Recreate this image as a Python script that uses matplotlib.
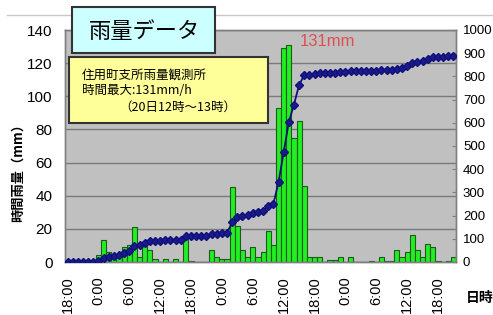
import matplotlib
matplotlib.use('Agg')
import matplotlib.pyplot as plt
from matplotlib.patches import Rectangle
from matplotlib.lines import Line2D

plt.rcParams['font.family'] = ['Liberation Sans Narrow', 'Liberation Sans', 'Noto Sans CJK JP', 'DejaVu Sans']

# hourly rainfall (mm), one value per hour from 18:00
rain = [0, 0, 0, 0, 0, 0, 4, 13, 6, 2,
        4, 9, 10, 21, 3, 11, 7, 2, 0, 2,
        0, 2, 0, 15, 0.5, 0, 0, 0, 7, 3,
        2, 2, 45, 22, 7, 3, 9, 3, 6, 19,
        10, 93, 129, 131, 75, 85, 46, 3, 3, 3,
        0, 1, 1, 3, 0, 3, 0, 0, 0, 0.5,
        0, 3, 0.5, 0.5, 7, 3, 6, 16, 7, 3,
        11, 9, 0.5, 0, 0.5, 3]

# cumulative rainfall (mm)
total = [0, 0, 0, 0, 0, 0, 4, 17, 23, 25,
         29, 38, 48, 69, 72, 83, 90, 92, 92, 94,
         94, 96, 96, 111, 112, 112, 112, 112, 119, 122,
         124, 126, 171, 193, 200, 203, 212, 215, 221, 240,
         250, 343, 472, 603, 678, 763, 805, 808, 811, 814,
         814, 815, 816, 819, 819, 822, 822, 822, 822, 823,
         823, 826, 826, 827, 834, 837, 843, 857, 864, 867,
         877, 884, 885, 885, 886, 889]

tick_labels = ['18:00', '0:00', '6:00', '12:00'] * 3 + ['18:00']

W, H = 493, 315
def fx(px):
    return px / W
def fy(py):
    return 1 - py / H

fig = plt.figure(figsize=(W / 100, H / 100), dpi=100)
fig.patch.set_facecolor('white')
ax = fig.add_axes([fx(65), fy(262), fx(456) - fx(65), fy(30) - fy(262)])
ax.set_facecolor('#C0C0C0')

x = list(range(len(rain)))
ax.bar(x, rain, width=1.0, color='#22EE22', edgecolor='#1E5A1E', linewidth=0.8, zorder=2)
ax.set_xlim(-0.5, len(rain) - 0.5)
ax.set_ylim(0, 140)
ax.set_yticks(range(0, 141, 20))
ax.yaxis.grid(True, color='#7A7A7A', linewidth=1)
ax.set_axisbelow(True)
ax.set_xticks(range(0, len(rain), 6))
ax.set_xticklabels(tick_labels, rotation=90, fontsize=10.5, family=['Liberation Sans', 'DejaVu Sans'])
ax.tick_params(axis='x', length=0, pad=10)
ax.tick_params(axis='y', length=0, pad=9, labelsize=11)

ax2 = ax.twinx()
ax2.plot(x, total, color='#10107A', linewidth=1.3, marker='D', markersize=4,
         markerfacecolor='#1A1A8C', markeredgecolor='#10107A', zorder=3)
ax2.set_ylim(0, 1000)
ax2.set_yticks(range(0, 1001, 100))
ax2.tick_params(axis='y', direction='in', length=3, color='#808080', pad=5, labelsize=9.5)

for a in (ax, ax2):
    for s in a.spines.values():
        s.set_color('#808080')
        s.set_linewidth(1)

# outer chart border line
fig.add_artist(Line2D([fx(7), 1], [fy(15), fy(15)], color='#C8C8C8', linewidth=1))

# title box
fig.add_artist(Rectangle((fx(72), fy(53)), fx(215) - fx(72), fy(7) - fy(53),
                         facecolor='#CCFFFF', edgecolor='#333333', linewidth=1.5, zorder=5))
fig.text(fx(144), fy(31), '雨量データ', fontsize=16, family=['Noto Sans CJK JP'],
         ha='center', va='center', zorder=6)

# info box
fig.add_artist(Rectangle((fx(69), fy(123)), fx(268) - fx(69), fy(57) - fy(123),
                         facecolor='#FFFF99', edgecolor='#333333', linewidth=1.5, zorder=5))
fig.text(fx(82), fy(75), '住用町支所雨量観測所', fontsize=9, family=['Noto Sans CJK JP'],
         ha='left', va='center', zorder=6)
fig.text(fx(82), fy(91), '時間最大:131mm/h', fontsize=9, family=['Noto Sans CJK JP'],
         ha='left', va='center', zorder=6)
fig.text(fx(119), fy(107), '（20日12時～13時）', fontsize=9, family=['Noto Sans CJK JP'],
         ha='left', va='center', zorder=6)

fig.text(fx(300), fy(41), '131mm', fontsize=12, color='#E05050',
         family=['Liberation Sans', 'DejaVu Sans'], ha='left', va='center', zorder=6)

fig.text(fx(18), fy(170), '時間雨量（mm）', fontsize=9.5, fontweight='bold', rotation=90,
         family=['Noto Sans CJK JP'], ha='center', va='center')
fig.text(fx(480), fy(298), '日時', fontsize=10, fontweight='bold',
         family=['Noto Sans CJK JP'], ha='center', va='center')

fig.savefig('out.png', dpi=100)
